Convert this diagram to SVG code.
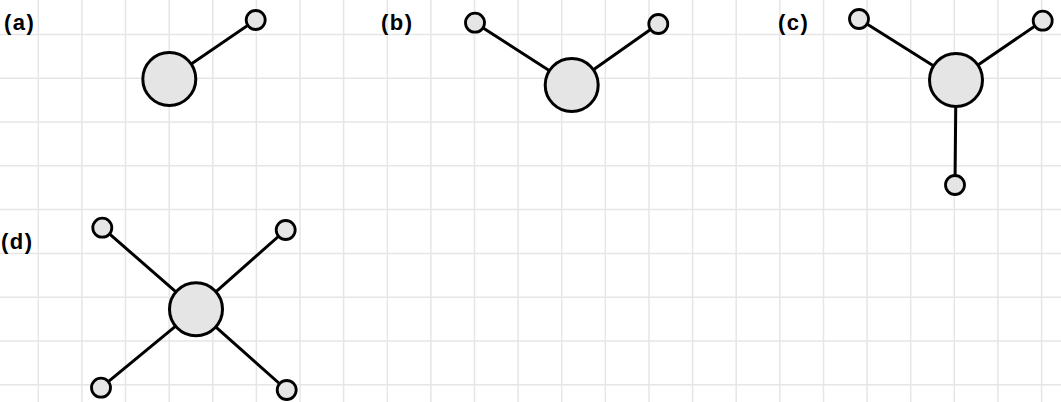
<svg xmlns="http://www.w3.org/2000/svg" width="1061" height="402" viewBox="0 0 1061 402">
<style>
.grid{stroke:#e6e6e6;stroke-width:1.5;fill:none}
.edge{stroke:#000;stroke-width:3;stroke-linecap:round;fill:none}
.big{fill:#e5e5e5;stroke:#000;stroke-width:3}
.small{fill:#e5e5e5;stroke:#000;stroke-width:2.8}
.lbl{font-family:"Liberation Sans",Arial,sans-serif;font-size:22px;font-weight:bold;letter-spacing:1.5px;fill:#000}
</style>
<rect width="1061" height="402" fill="#fff"/>
<g id="grid" class="grid">
<path d="M38.3 0V402M81.9 0V402M125.5 0V402M169.2 0V402M212.8 0V402M256.4 0V402M300 0V402M343.6 0V402M387.3 0V402M430.9 0V402M474.5 0V402M518.1 0V402M561.7 0V402M605.4 0V402M649 0V402M692.6 0V402M736.2 0V402M779.8 0V402M823.5 0V402M867.1 0V402M910.7 0V402M954.3 0V402M997.9 0V402M1041.6 0V402"/>
<path d="M0 34.4H1061M0 78.2H1061M0 122H1061M0 165.8H1061M0 209.6H1061M0 253.4H1061M0 297.2H1061M0 341H1061M0 384.8H1061"/>
</g>
<g id="connectors">
<line class="edge" x1="169.3" y1="79" x2="255.7" y2="20"/>
<line class="edge" x1="571.7" y1="85" x2="475" y2="22.7"/>
<line class="edge" x1="571.7" y1="85" x2="658.3" y2="24"/>
<line class="edge" x1="956" y1="80" x2="859" y2="19"/>
<line class="edge" x1="956" y1="80" x2="1042.7" y2="20.7"/>
<line class="edge" x1="956" y1="80" x2="955" y2="185"/>
<line class="edge" x1="196" y1="309.3" x2="102.3" y2="227.7"/>
<line class="edge" x1="196" y1="309.3" x2="285.7" y2="230"/>
<line class="edge" x1="196" y1="309.3" x2="101" y2="387.7"/>
<line class="edge" x1="196" y1="309.3" x2="286.7" y2="390"/>
</g>
<g id="label-a"><text class="lbl" x="4" y="30">(a)</text></g>
<g id="label-b"><text class="lbl" x="381" y="30">(b)</text></g>
<g id="label-c"><text class="lbl" x="778" y="30">(c)</text></g>
<g id="label-d"><text class="lbl" x="1" y="249">(d)</text></g>
<g id="a-center"><circle class="big" cx="169.3" cy="79" r="26.5"/></g>
<g id="a-n1"><circle class="small" cx="255.7" cy="20" r="9.5"/></g>
<g id="b-center"><circle class="big" cx="571.7" cy="85" r="26.5"/></g>
<g id="b-n1"><circle class="small" cx="475" cy="22.7" r="9.5"/></g>
<g id="b-n2"><circle class="small" cx="658.3" cy="24" r="9.5"/></g>
<g id="c-center"><circle class="big" cx="956" cy="80" r="26.5"/></g>
<g id="c-n1"><circle class="small" cx="859" cy="19" r="9.5"/></g>
<g id="c-n2"><circle class="small" cx="1042.7" cy="20.7" r="9.5"/></g>
<g id="c-n3"><circle class="small" cx="955" cy="185" r="9.5"/></g>
<g id="d-center"><circle class="big" cx="196" cy="309.3" r="26.5"/></g>
<g id="d-n1"><circle class="small" cx="102.3" cy="227.7" r="9.5"/></g>
<g id="d-n2"><circle class="small" cx="285.7" cy="230" r="9.5"/></g>
<g id="d-n3"><circle class="small" cx="101" cy="387.7" r="9.5"/></g>
<g id="d-n4"><circle class="small" cx="286.7" cy="390" r="9.5"/></g>
</svg>
